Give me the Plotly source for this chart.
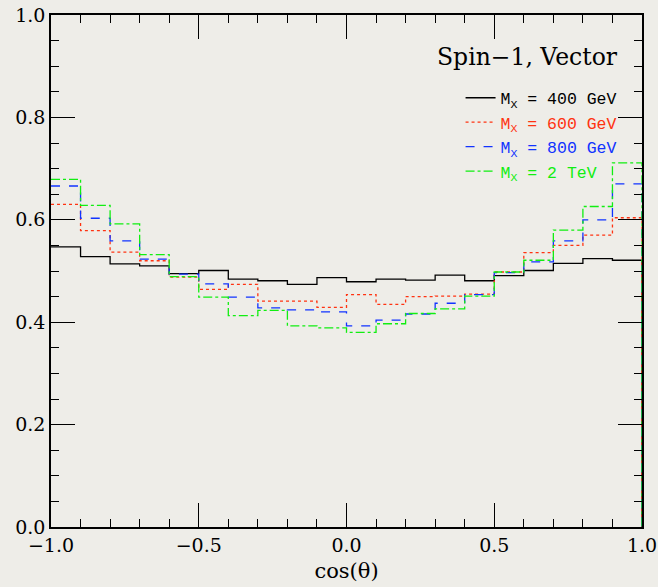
import plotly.graph_objects as go

edges = [round(-1 + 0.1 * i, 1) for i in range(21)]

m400 = [0.547, 0.528, 0.514, 0.510, 0.495, 0.501, 0.484, 0.481, 0.474, 0.487,
        0.479, 0.484, 0.482, 0.492, 0.481, 0.491, 0.501, 0.515, 0.524, 0.521]
m600 = [0.630, 0.579, 0.537, 0.520, 0.488, 0.464, 0.474, 0.441, 0.441, 0.429,
        0.454, 0.435, 0.450, 0.451, 0.455, 0.498, 0.536, 0.550, 0.570, 0.604]
m800 = [0.666, 0.603, 0.559, 0.523, 0.494, 0.475, 0.449, 0.428, 0.424, 0.420,
        0.393, 0.404, 0.416, 0.437, 0.454, 0.497, 0.518, 0.559, 0.600, 0.670]
m2000 = [0.679, 0.628, 0.592, 0.532, 0.489, 0.449, 0.413, 0.423, 0.393, 0.389,
         0.380, 0.397, 0.417, 0.426, 0.451, 0.498, 0.521, 0.580, 0.626, 0.711]

series = [
    ("400 GeV", m400, "#000000", "solid"),
    ("600 GeV", m600, "#ff3311", "dot"),
    ("800 GeV", m800, "#1133ff", "dash"),
    ("2 TeV", m2000, "#11ee11", "dashdot"),
]

fig = go.Figure()
for name, vals, col, dash in series:
    xs = edges[:-1] + [edges[-1], edges[-1]]
    ys = vals + [vals[-1], 0]
    fig.add_trace(go.Scatter(
        x=xs, y=ys, mode="lines", line_shape="hv",
        line=dict(color=col, width=1.3, dash=dash),
        name=f'<span style="color:{col}">M<sub>X</sub> = {name}</span>',
    ))

bg = "#eeede8"
serif = "DejaVu Serif"
axis_common = dict(
    showgrid=False, zeroline=False, showline=True, linecolor="black", linewidth=1.5,
    mirror="allticks", ticks="inside", ticklen=24, tickwidth=1.3, tickcolor="black",
    tickfont=dict(family=serif, size=19, color="black"), automargin=False,
)
fig.update_xaxes(range=[-1, 1], tickmode="array", tickvals=[-1, -0.5, 0, 0.5, 1],
                 ticktext=["−1.0", "−0.5", "0.0", "0.5", "1.0"],
                 minor=dict(tickmode="array", tickvals=[round(-0.9 + 0.1 * i, 1) for i in range(19)],
                            ticklen=8, ticks="inside", tickcolor="black", tickwidth=1.2),
                 title=dict(text="cos(θ)", font=dict(family=serif, size=21, color="black"), standoff=9),
                 **axis_common)
fig.update_yaxes(range=[0, 1], tickmode="array", tickvals=[0, 0.2, 0.4, 0.6, 0.8, 1.0],
                 ticktext=["0.0", "0.2", "0.4", "0.6", "0.8", "1.0"],
                 minor=dict(tickmode="array", tickvals=[round(0.05 * i, 2) for i in range(1, 20)],
                            ticklen=8, ticks="inside", tickcolor="black", tickwidth=1.2),
                 **axis_common)

fig.add_annotation(x=(620 - 51) / 591, y=0.917, xref="x domain", yref="paper",
                   xanchor="right", yanchor="middle",
                   text="Spin−1, Vector", showarrow=False,
                   font=dict(family=serif, size=23.5, color="black"))

fig.update_layout(
    width=658, height=587,
    margin=dict(l=51, r=16, t=15, b=60),
    paper_bgcolor=bg, plot_bgcolor=bg,
    showlegend=True,
    legend=dict(x=0.693, y=0.872, xanchor="left", yanchor="top", bgcolor="rgba(0,0,0,0)",
                font=dict(family="Liberation Mono", size=16.5, color="black"),
                tracegroupgap=0),
)

fig.write_html("out.html")
